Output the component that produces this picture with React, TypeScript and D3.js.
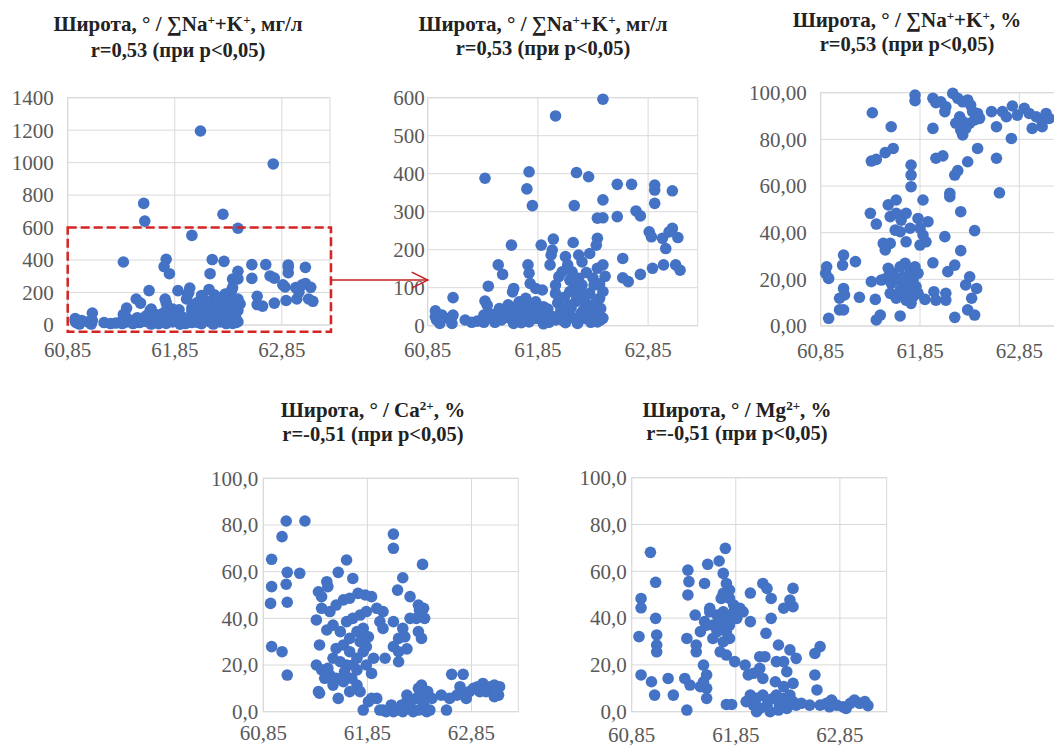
import React from "react";
import * as d3 from "d3";

// latitude ticks shared by every panel
const latTicks = [60.85, 61.85, 62.85];
const latDomain = [60.85, 63.3];

// [latitude, Na+K mg/l]  (panel 1 and its zoomed copy, panel 2)
const nakMg: [number, number][] = [
  [62.44, 596], [62.01, 552], [61.37, 388], [61.77, 405], [61.75, 360], [61.8, 316], [62.2, 403], [62.31, 392],
  [62.18, 316], [62.44, 331], [62.44, 284], [62.39, 283], [62.57, 372], [62.7, 372], [62.91, 370], [62.91, 357],
  [63.07, 355], [62.91, 322], [62.57, 287], [62.74, 302], [62.78, 289], [62.86, 247], [62.88, 234], [63.07, 256],
  [63.12, 232], [62.98, 230], [63.01, 203], [63.04, 247], [62.62, 177], [62.62, 126], [62.67, 116], [62.78, 135],
  [62.89, 151], [62.99, 160], [63.1, 160], [63.14, 146], [62.39, 230], [62.38, 212], [62.17, 219], [61.99, 228],
  [61.98, 199], [61.88, 212], [61.61, 212], [61.49, 160], [61.53, 135], [61.4, 104], [61.08, 74], [60.92, 39],
  [60.92, 24],
  [61.76, 160], [61.77, 138], [61.78, 111], [61.83, 98], [61.96, 160], [61.97, 186], [62.1, 182], [62.12, 160],
  [62.16, 142], [62.22, 186], [62.25, 168], [62.32, 190], [62.39, 151], [62.35, 125], [62.22, 125], [62.25, 107],
  [62.18, 103], [62.04, 129], [62.07, 142], [62.01, 107], [62.01, 85], [61.89, 94], [61.63, 98], [61.62, 89],
  [61.37, 65], [61.39, 54], [62.32, 85], [62.36, 107], [62.41, 72], [62.19, 63], [61.74, 72], [61.68, 63],
  [61.83, 63],
  [60.93, 15], [60.98, 28], [61.04, 19], [61.08, 28], [61.07, 6], [60.96, 6], [61.19, 15], [61.25, 9],
  [61.36, 28], [61.36, 9], [61.4, 19], [61.46, 9], [61.49, 28], [61.52, 15], [61.57, 37], [61.6, 19],
  [61.63, 6], [61.66, 37], [61.69, 19], [61.72, 28], [61.75, 46], [61.77, 10], [61.8, 28], [61.83, 19],
  [61.86, 37], [61.89, 15], [61.92, 28], [61.95, 9], [61.98, 24], [62.01, 15], [61.65, 50], [61.71, 54],
  [61.78, 50], [61.87, 46], [61.94, 44], [62.07, 15], [62.12, 28], [62.15, 46], [62.18, 19], [62.21, 6],
  [62.24, 32], [62.27, 19], [62.3, 28], [62.33, 9], [62.36, 24], [62.39, 10], [62.42, 15], [62.13, 54],
  [62.28, 50], [62.35, 54], [61.3, 12], [61.43, 30], [61.55, 22], [61.7, 8], [61.9, 5], [62.05, 32],
  [62.1, 8], [62.26, 40], [62.4, 35], [62.44, 20],
  [62.03, 60], [62.06, 45], [62.09, 75], [62.14, 90], [62.2, 80], [62.23, 95], [62.27, 70], [62.3, 55],
  [62.33, 40], [62.37, 60], [62.42, 45], [62.44, 90], [62.46, 130], [62.44, 160], [62.41, 110], [62.29, 140],
  [62.14, 120], [61.58, 55], [61.62, 40], [61.68, 30], [61.73, 40], [61.8, 45], [61.85, 30], [61.9, 50],
  [61.93, 20], [61.5, 45], [61.45, 20],
  [62.09, 1195], [62.77, 992], [61.56, 749], [61.57, 640], [62.3, 682],
];

// [latitude, Na+K %]
const nakPct: [number, number][] = [
  [61.8, 99], [61.8, 96.6], [61.98, 97.6], [62.01, 95.7], [62.06, 96.1], [62.11, 94], [62.1, 91.9], [62.18, 99.7],
  [62.23, 97.6], [62.28, 96.1], [62.33, 96.9], [62.36, 94.7], [62.38, 91.9], [62.43, 91.1], [62.25, 89.7],
  [62.21, 86.9], [62.28, 87.6], [62.35, 86.9], [62.31, 84.7], [62.28, 81.9], [62.26, 84], [62.4, 88.3], [62.45, 89],
  [62.57, 91.9], [62.62, 85.4], [62.68, 91.9], [62.72, 89.7], [62.78, 94.3], [62.77, 80.4], [62.83, 90.4],
  [62.9, 93.3], [62.95, 91.1], [62.98, 84.7], [63.02, 89.7], [63.08, 87.6], [63.12, 91.1], [63.08, 85.4], [63.15, 89],
  [61.37, 91.4], [61.56, 85.4], [61.98, 84.7], [61.36, 70.7], [61.41, 71.4], [61.5, 74.3], [61.58, 76.1],
  [62.01, 71.9], [62.08, 72.9], [62.43, 76.1], [62.33, 70.4], [62.62, 71.9], [62.2, 64.7], [62.23, 66.6],
  [61.76, 69], [61.76, 64.7], [61.76, 59.7], [62.65, 57.1], [62.15, 56.9], [62.15, 55.4], [61.88, 54],
  [61.53, 51.9], [61.61, 54], [61.35, 48.3], [61.41, 43.7], [61.55, 46.9], [61.61, 48.3], [61.66, 45.4],
  [61.71, 48.3], [61.6, 41.1], [61.65, 40.4], [61.75, 41.9], [61.83, 46.1], [61.85, 41.9], [61.93, 44.7],
  [61.88, 39], [61.71, 36.1], [61.48, 35.4], [61.5, 32.6], [61.55, 35.4], [61.85, 34.7], [61.91, 36.1],
  [62.1, 38.3], [62.26, 49], [62.4, 40.9], [62.26, 32.3],
  [60.91, 25.4], [60.9, 22.6], [60.93, 20.4], [61.08, 30.4], [61.07, 26.1], [61.2, 27.6], [61.08, 16.1],
  [61.04, 11.9], [61.09, 13.3], [61.04, 6.9], [61.08, 6.9], [60.93, 3.3], [61.24, 12.3], [61.4, 11.4],
  [61.36, 19], [61.41, 2.6], [61.45, 4.7], [61.65, 4.3],
  [61.46, 19.7], [61.53, 24.7], [61.58, 22.6], [61.65, 25.4], [61.7, 26.9], [61.75, 24], [61.8, 25.4],
  [61.83, 22.6], [61.51, 20.4], [61.56, 18.3], [61.63, 19.7], [61.68, 21.1], [61.73, 19.7], [61.78, 19.7],
  [61.81, 16.9], [61.71, 16.9], [61.65, 15.4], [61.55, 14], [61.61, 11.9], [61.71, 11.1], [61.78, 12.6],
  [61.83, 14], [61.76, 9.7], [61.75, 15.4], [61.68, 14],
  [61.9, 11.4], [61.98, 27.1], [61.99, 14.7], [62.01, 11.1], [62.11, 14], [62.11, 11.1], [62.13, 23.3],
  [62.2, 26.1], [62.35, 21.1], [62.31, 17.6], [62.42, 16.1], [62.37, 11.9], [62.33, 6.9], [62.4, 4.7], [62.2, 3.7],
];

// [latitude, Ca %]
const caPct: [number, number][] = [
  [61.07, 81.7], [61.25, 81.7], [61.03, 75], [60.93, 65.3], [61.08, 59.7], [61.2, 59.3], [61.07, 54.6],
  [60.93, 53.6], [60.92, 46.4], [61.08, 46.9], [60.93, 27.9], [61.03, 25.7], [61.08, 15.7], [61.65, 65],
  [61.57, 59.7], [61.71, 57.1], [61.46, 55.7], [61.47, 53.6], [61.38, 51.4], [61.41, 49.3], [62.1, 76.1],
  [62.1, 70], [62.38, 63.1], [62.19, 57.4], [62.14, 52.1], [62.26, 49.3], [62.34, 45.7], [62.39, 44.3],
  [62.4, 40], [62.35, 43.6], [62.26, 40], [62.32, 40], [62.34, 34.3], [62.37, 31.4], [62.1, 38.6],
  [62.19, 35.7], [62.15, 31.4], [62.21, 32.1], [62.1, 27.9], [62.15, 25.7], [62.23, 26.9], [62.15, 21.4],
  [62.02, 22.9], [62.0, 42.9], [61.94, 44.3], [61.97, 38.6], [62.0, 35.7], [61.89, 49.3], [61.83, 50],
  [61.41, 44.3], [61.49, 42.9], [61.55, 45.7], [61.62, 47.9], [61.68, 48.6], [61.76, 50.7], [61.52, 37.1],
  [61.46, 35], [61.59, 34.3], [61.65, 38.6], [61.71, 40], [61.78, 41.4], [61.84, 42.9], [61.36, 39.3],
  [61.39, 28.6], [61.55, 27.1], [61.62, 28.6], [61.68, 31.4], [61.75, 34.3], [61.81, 35.7], [61.86, 32.1],
  [61.68, 25.7], [61.75, 22.9], [61.81, 25.7], [61.91, 22.9], [61.84, 20], [61.71, 20], [61.65, 20],
  [61.59, 21.4], [61.52, 22.9], [61.36, 20], [61.41, 17.9], [61.49, 15.7], [61.55, 14.3], [61.63, 17.1],
  [61.7, 14.3], [61.75, 11.4], [61.78, 8.6], [61.62, 12.9], [61.52, 11.4], [61.57, 5.7], [61.38, 8.6],
  [61.39, 7.9], [61.89, 16.4], [61.81, 31.4], [61.78, 30], [61.47, 18.6], [61.44, 14.3], [61.68, 8.6],
  [61.75, 17.9], [61.84, 27.9],
  [61.81, 0.7], [61.86, 4.3], [61.94, 5.7], [61.97, 0.7], [62.03, 0], [62.08, 2.9], [62.13, 0.7], [62.19, 0],
  [62.23, 7.1], [62.26, 2.9], [62.29, 0], [62.32, 5.7], [62.34, 10], [62.37, 11.4], [62.39, 2.9], [62.42, 0],
  [62.43, 8.6], [62.47, 5.7], [62.45, 0.7], [62.23, 4.3], [62.18, 2.9], [62.0, 0.7], [62.1, 0], [62.34, 0.7],
  [62.39, 7.1], [61.89, 5.7],
  [62.56, 7.1], [62.61, 0.7], [62.66, 16], [62.77, 16], [62.74, 10.7], [62.71, 7.1], [62.64, 5.7], [62.77, 7.9],
  [62.83, 8.6], [62.87, 10], [62.91, 10.7], [62.96, 12.1], [63.03, 10.7], [63.07, 11.4], [63.11, 7.1],
  [62.99, 8.6], [63.12, 10.7], [63.07, 6.4], [62.93, 8.6], [62.8, 5.7],
];

// [latitude, Mg %]
const mgPct: [number, number][] = [
  [61.03, 68.1], [61.08, 55.3], [60.94, 48.4], [60.94, 44.4], [60.92, 32.1], [61.08, 39.9], [61.09, 32.8],
  [61.09, 28.5], [61.09, 25.6], [60.94, 15.7], [61.04, 12.8], [61.07, 7.1], [61.2, 14.2], [61.25, 7.1],
  [61.38, 0.7], [61.39, 60.5], [61.4, 55.6], [61.39, 49.9], [61.58, 63], [61.69, 64.4], [61.75, 69.8],
  [61.73, 59.1], [61.55, 54.8], [61.38, 31.3], [61.47, 28.5], [61.47, 25.6], [61.46, 41.3], [61.36, 14.2],
  [61.41, 11.4], [61.51, 10.7], [61.57, 10], [61.57, 5.7], [61.54, 19.9], [61.57, 15.7], [61.54, 12.8],
  [61.76, 54.8], [61.79, 52], [61.73, 50.6], [61.71, 48.4], [61.79, 48.4], [61.83, 45.6], [61.89, 44.2],
  [61.6, 44.2], [61.55, 38.5], [61.6, 42.7], [61.67, 41.3], [61.73, 42.7], [61.76, 39.9], [61.7, 38.5],
  [61.63, 37], [61.7, 35.6], [61.76, 34.2], [61.79, 31.3], [61.73, 29.9], [61.7, 25.6], [61.76, 24.2],
  [61.84, 21.4], [61.94, 19.9], [61.83, 42.7], [61.86, 39.9], [61.92, 42.7], [61.67, 34.2], [61.63, 31.3],
  [61.57, 37], [61.51, 34.2], [61.79, 37],
  [61.99, 50.7], [62.11, 54.8], [62.15, 52.7], [62.19, 48.4], [61.99, 38.5], [62.14, 33.5], [62.19, 39.9],
  [62.26, 28.5], [62.4, 52.7], [62.37, 47.7], [62.31, 44.2], [62.4, 44.9], [62.08, 23.5], [62.13, 23.5],
  [62.37, 26.4], [62.43, 22.8], [62.31, 21.4], [62.34, 17.1], [62.66, 27.8], [62.61, 24.9], [62.61, 15.7],
  [62.63, 9.3], [62.24, 21.4], [61.97, 15.7], [62.02, 16.4], [62.08, 18.5], [62.11, 14.2], [62.23, 12.8],
  [62.4, 12.1], [62.31, 10.7],
  [61.76, 3.1], [61.81, 3.1], [61.95, 4.3], [61.99, 7.1], [62.02, 2.8], [62.05, 5.7], [62.08, 1.4], [62.11, 7.1],
  [62.15, 2.8], [62.18, 0], [62.21, 5.7], [62.24, 7.1], [62.27, 2.8], [62.31, 5.7], [62.34, 1.4], [62.37, 7.1],
  [62.4, 4.3], [62.43, 2.8], [62.05, 0], [62.16, 5], [62.26, 0.7], [62.35, 4.3], [62.56, 2.8], [62.66, 2.8],
  [62.72, 3.6], [62.77, 5], [62.82, 2.8], [62.88, 2.1], [62.95, 3.6], [62.99, 5], [63.04, 3.6], [63.09, 4.3],
  [63.12, 2.6], [62.91, 1.4], [62.75, 2.1], [62.48, 3.6],
];

type Seg = { t: string; sup?: boolean };
const titleNaKMg: Seg[] = [{ t: "Широта, ° / ∑Na" }, { t: "+", sup: true }, { t: "+K" }, { t: "+", sup: true }, { t: ", мг/л" }];
const titleNaKPct: Seg[] = [{ t: "Широта, ° / ∑Na" }, { t: "+", sup: true }, { t: "+K" }, { t: "+", sup: true }, { t: ", %" }];
const titleCa: Seg[] = [{ t: "Широта, ° / Ca" }, { t: "2+", sup: true }, { t: ", %" }];
const titleMg: Seg[] = [{ t: "Широта, ° / Mg" }, { t: "2+", sup: true }, { t: ", %" }];
const rPos = "r=0,53 (при p<0,05)";
const rNeg = "r=-0,51 (при p<0,05)";

const SERIF = "'Liberation Serif', 'Times New Roman', serif";
const BLUE = "#4472c4";
const GRID = "#d9d9d9";

const comma = (f: (n: number) => string) => (n: number) => f(n).replace(".", ",");

type PanelCfg = {
  data: [number, number][];
  box: { x0: number; x1: number; y0: number; y1: number };
  yMax: number;
  yStep: number;
  yFmt: (n: number) => string;
  yGap: number;
  xGap: number;
  title: Seg[];
  sub: string;
  tx: number;
  ty: [number, number];
};

const panels: PanelCfg[] = [
  { data: nakMg, box: { x0: 67.7, x1: 330, y0: 97.7, y1: 325 }, yMax: 1400, yStep: 200, yFmt: d3.format("d"), yGap: 14, xGap: 32, title: titleNaKMg, sub: rPos, tx: 178, ty: [31, 57] },
  { data: nakMg, box: { x0: 427.7, x1: 697.7, y0: 97.7, y1: 325.7 }, yMax: 600, yStep: 100, yFmt: d3.format("d"), yGap: 3, xGap: 31, title: titleNaKMg, sub: rPos, tx: 543, ty: [31, 55] },
  { data: nakPct, box: { x0: 820.7, x1: 1064, y0: 92.7, y1: 326 }, yMax: 100, yStep: 20, yFmt: comma(d3.format(".2f")), yGap: 14, xGap: 32, title: titleNaKPct, sub: rPos, tx: 907, ty: [27, 51] },
  { data: caPct, box: { x0: 263.3, x1: 518.3, y0: 478.3, y1: 711.7 }, yMax: 100, yStep: 20, yFmt: comma(d3.format(".1f")), yGap: 5, xGap: 28, title: titleCa, sub: rNeg, tx: 373, ty: [417, 441] },
  { data: mgPct, box: { x0: 631.7, x1: 886.7, y0: 477.7, y1: 711.7 }, yMax: 100, yStep: 20, yFmt: comma(d3.format(".1f")), yGap: 5, xGap: 30, title: titleMg, sub: rNeg, tx: 737, ty: [417, 440] },
];

const scalesFor = (p: PanelCfg) => ({
  x: d3.scaleLinear().domain(latDomain).range([p.box.x0, p.box.x1]),
  y: d3.scaleLinear().domain([0, p.yMax]).range([p.box.y1, p.box.y0]),
});

const Panel = ({ p }: { p: PanelCfg }) => {
  const { x, y } = scalesFor(p);
  const yTicks = d3.range(0, p.yMax + p.yStep / 2, p.yStep);
  const pts = p.data.filter((d) => d[1] <= p.yMax);
  return (
    <g>
      {yTicks.map((t) => (
        <line key={"h" + t} x1={p.box.x0} x2={p.box.x1} y1={y(t)} y2={y(t)} stroke={GRID} strokeWidth={1} />
      ))}
      {latTicks.map((t) => (
        <line key={"v" + t} x1={x(t)} x2={x(t)} y1={p.box.y0} y2={p.box.y1} stroke={GRID} strokeWidth={1} />
      ))}
      <rect x={p.box.x0} y={p.box.y0} width={p.box.x1 - p.box.x0} height={p.box.y1 - p.box.y0} fill="none" stroke={GRID} />
      {pts.map((d, i) => (
        <circle key={i} cx={x(d[0])} cy={y(d[1])} r={5.8} fill={BLUE} />
      ))}
      {yTicks.map((t) => (
        <text key={"yl" + t} x={p.box.x0 - p.yGap} y={y(t)} dy="0.35em" textAnchor="end" fontSize={21} fill="#595959" fontFamily={SERIF}>
          {p.yFmt(t)}
        </text>
      ))}
      {latTicks.map((t) => (
        <text key={"xl" + t} x={x(t)} y={p.box.y1 + p.xGap} textAnchor="middle" fontSize={21} fill="#595959" fontFamily={SERIF}>
          {comma(d3.format(".2f"))(t)}
        </text>
      ))}
      <text x={p.tx} y={p.ty[0]} textAnchor="middle" fontSize={21} fontWeight="bold" fill="#222" fontFamily={SERIF}>
        {p.title.map((s, i) =>
          s.sup ? (
            <tspan key={i} baselineShift="super" fontSize="62%">{s.t}</tspan>
          ) : (
            <tspan key={i}>{s.t}</tspan>
          )
        )}
      </text>
      <text x={p.tx} y={p.ty[1]} textAnchor="middle" fontSize={20.5} fontWeight="bold" fill="#222" fontFamily={SERIF}>
        {p.sub}
      </text>
    </g>
  );
};

// zoom frame drawn on panel 1, in its data units
const frameLat = latDomain;
const frameVal = [-42, 600];
const arrowVal = 120; // in panel 2 units

export default function App() {
  const s1 = scalesFor(panels[0]);
  const s2 = scalesFor(panels[1]);
  const fx0 = s1.x(frameLat[0]);
  const fx1 = s1.x(frameLat[1]) + 1;
  const fy0 = s1.y(frameVal[1]);
  const fy1 = s1.y(frameVal[0]);
  const ay = s2.y(arrowVal);
  const ax1 = panels[1].box.x0;
  return (
    <svg width={1054} height={747} style={{ position: "absolute", left: 0, top: 0, display: "block", background: "#fff" }}>
      <rect width={1054} height={747} fill="#fff" />
      {panels.map((p, i) => (
        <Panel key={i} p={p} />
      ))}
      <rect x={fx0} y={fy0} width={fx1 - fx0} height={fy1 - fy0} fill="none" stroke="#d42424" strokeWidth={2.5} strokeDasharray="9 4" />
      <line x1={fx1} x2={ax1} y1={ay} y2={ay} stroke="#c42020" strokeWidth={1.5} />
      <path d={`M${ax1 - 16},${ay - 8} L${ax1},${ay} L${ax1 - 16},${ay + 8}`} fill="none" stroke="#c42020" strokeWidth={1.5} />
    </svg>
  );
}
